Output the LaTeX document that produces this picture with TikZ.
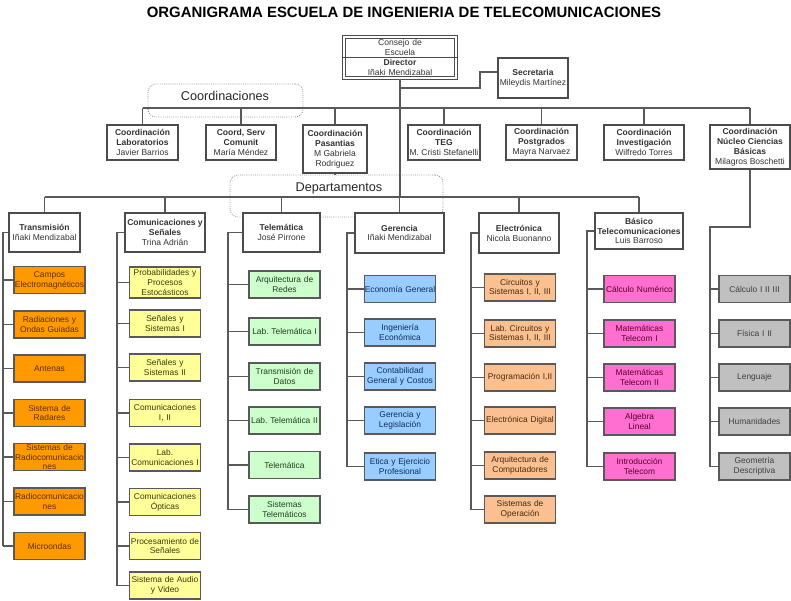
\documentclass[tikz,border=0pt]{standalone}
\usepackage{fontspec}
\setmainfont{Liberation Sans}
\usetikzlibrary{shapes.multipart}

\definecolor{transfill}{HTML}{FF9900}
\definecolor{transtext}{HTML}{5A3000}
\definecolor{comufill}{HTML}{FFFF99}
\definecolor{comutext}{HTML}{3A3A10}
\definecolor{telefill}{HTML}{CCFFCC}
\definecolor{teletext}{HTML}{1F3F1F}
\definecolor{gerenfill}{HTML}{99CCFF}
\definecolor{gerentext}{HTML}{0F2F5F}
\definecolor{elecfill}{HTML}{FAC08F}
\definecolor{electext}{HTML}{4A2A10}
\definecolor{basicofill}{HTML}{FF6FCF}
\definecolor{basicotext}{HTML}{5A0030}
\definecolor{nucleofill}{HTML}{C0C0C0}
\definecolor{nucleotext}{HTML}{404040}

\begin{document}
\frenchspacing
\begin{tikzpicture}[x=0.75pt, y=-0.75pt,
            link/.style={color=black!65, line width=0.8pt},
            area/.style={draw=black!45, densely dotted, rounded corners=6pt, line width=0.6pt},
            areatext/.style={font=\fontsize{9.5}{11}\selectfont, text=black!85},
            unit/.style={draw=black!70, fill=white, line width=0.9pt, align=center, inner sep=1pt, font=\fontsize{6.4}{7.4}\selectfont, text=black!80},
            leaf/.style={draw=black!65, line width=0.9pt, align=center, inner ysep=0pt, text width=57pt, inner xsep=-1.875pt, minimum height=20.25pt, font=\fontsize{6.3}{7.4}\selectfont},
            transleaf/.style={leaf, fill=transfill, text=transtext},
            comuleaf/.style={leaf, fill=comufill, text=comutext},
            teleleaf/.style={leaf, fill=telefill, text=teletext},
            gerenleaf/.style={leaf, fill=gerenfill, text=gerentext},
            elecleaf/.style={leaf, fill=elecfill, text=electext},
            basicoleaf/.style={leaf, fill=basicofill, text=basicotext},
            nucleoleaf/.style={leaf, fill=nucleofill, text=nucleotext}
        ]
            \useasboundingbox (0,0) rectangle (791,600);

            % title
            \node[font=\bfseries\fontsize{11.2}{13}\selectfont] (title) at (404,12) {ORGANIGRAMA ESCUELA DE INGENIERIA DE TELECOMUNICACIONES};

            % top
            \node[draw=black!70, double=white, double distance=1pt, line width=0.9pt, rectangle split, rectangle split parts=2,
                  rectangle split draw splits=false, text width=80pt, align=center, inner xsep=2pt, inner ysep=1.2pt,
                  font=\fontsize{6.4}{7.4}\selectfont, text=black!80] (director) at (400,57.5)
                {Consejo de\\Escuela \nodepart{two} \textbf{Director}\\Iñaki Mendizabal};
            \draw[color=black!70, line width=0.9pt] (director.text split west) -- (director.text split east);
            \node[unit, minimum width=52.5pt, minimum height=30pt] (secretaria) at (533,78) {\textbf{Secretaria}\\Mileydis Martínez};

            % areas
            \node[area, minimum width=116.25pt, minimum height=24.75pt] (coordarea) at (225.5,100.5) {};
            \node[areatext] (coordlabel) at (225,96) {Coordinaciones};
            \node[area, minimum width=159.75pt, minimum height=31.5pt] (deptarea) at (336.5,196) {};
            \node[areatext] (deptlabel) at (339,188) {Departamentos};

            % coordinaciones
            \node[unit, minimum width=53.25pt, minimum height=26.25pt] (clab) at (142.5,142.5) {\textbf{Coordinación}\\\textbf{Laboratorios}\\Javier Barrios};
            \node[unit, minimum width=52.5pt, minimum height=26.25pt] (cserv) at (241,142.5) {\textbf{Coord, Serv}\\\textbf{Comunit}\\María Méndez};
            \node[unit, minimum width=48pt, minimum height=36pt] (cpas) at (335,149) {\textbf{Coordinación}\\\textbf{Pasantias}\\M Gabriela\\Rodriguez};
            \node[unit, minimum width=54pt, minimum height=26.25pt] (cteg) at (444,142.5) {\textbf{Coordinación}\\\textbf{TEG}\\M. Cristi Stefanelli};
            \node[unit, minimum width=53.25pt, minimum height=26.25pt] (cpost) at (541.5,142.5) {\textbf{Coordinación}\\\textbf{Postgrados}\\Mayra Narvaez};
            \node[unit, minimum width=60pt, minimum height=26.25pt] (cinv) at (644,142.5) {\textbf{Coordinación}\\\textbf{Investigación}\\Wilfredo Torres};
            \node[unit, minimum width=60pt, minimum height=33pt] (cnuc) at (750,147) {\textbf{Coordinación}\\\textbf{Núcleo Ciencias}\\\textbf{Básicas}\\Milagros Boschetti};

            % departamentos
            \node[unit, minimum width=53.25pt, minimum height=29.25pt] (trans) at (44.5,232.5) {\textbf{Transmisión}\\Iñaki Mendizabal};
            \node[unit, minimum width=60pt, minimum height=29.25pt] (comu) at (165,232.5) {\textbf{Comunicaciones y}\\\textbf{Señales}\\Trina Adrián};
            \node[unit, minimum width=57.75pt, minimum height=29.25pt] (tele) at (281.5,232.5) {\textbf{Telemática}\\José Pirrone};
            \node[unit, minimum width=66.75pt, minimum height=30pt] (geren) at (399.5,233) {\textbf{Gerencia}\\Iñaki Mendizabal};
            \node[unit, minimum width=60pt, minimum height=30pt] (elec) at (519,233) {\textbf{Electrónica}\\Nicola Buonanno};
            \node[unit, minimum width=66pt, minimum height=27pt] (basico) at (639,231) {\textbf{Básico}\\\textbf{Telecomunicaciones}\\Luis Barroso};

            % materias transmision
            \node[transleaf] (t1) at (49.5,280) {Campos\\Electromagnéticos};
            \node[transleaf] (t2) at (49.5,324.5) {Radiaciones y\\Ondas Guiadas};
            \node[transleaf] (t3) at (49.5,368.5) {Antenas};
            \node[transleaf] (t4) at (49.5,413) {Sistema de\\Radares};
            \node[transleaf] (t5) at (49.5,457) {Sistemas de\\Radiocomunicacio\\nes};
            \node[transleaf] (t6) at (49.5,501.5) {Radiocomunicacio\\nes};
            \node[transleaf] (t7) at (49.5,546) {Microondas};

            % materias comunicaciones
            \node[comuleaf, minimum height=23.25pt] (s1) at (165,282.5) {Probabilidades y\\Procesos\\Estocásticos};
            \node[comuleaf] (s2) at (165,323.5) {Señales y\\Sistemas I};
            \node[comuleaf] (s3) at (165,367.5) {Señales y\\Sistemas II};
            \node[comuleaf] (s4) at (165,413) {Comunicaciones\\I, II};
            \node[comuleaf] (s5) at (165,457.5) {Lab.\\Comunicaciones I};
            \node[comuleaf] (s6) at (165,502) {Comunicaciones\\Ópticas};
            \node[comuleaf] (s7) at (165,546) {Procesamiento de\\Señales};
            \node[comuleaf] (s8) at (165,585.5) {Sistema de Audio\\y Video};

            % materias telematica
            \node[teleleaf] (l1) at (284.5,284.5) {Arquitectura de\\Redes};
            \node[teleleaf] (l2) at (284.5,331.5) {Lab. Telemática I};
            \node[teleleaf] (l3) at (284.5,376.5) {Transmisión de\\Datos};
            \node[teleleaf] (l4) at (284.5,420.5) {Lab. Telemática II};
            \node[teleleaf] (l5) at (284.5,465) {Telemática};
            \node[teleleaf] (l6) at (284.5,509.5) {Sistemas\\Telemáticos};

            % materias gerencia
            \node[gerenleaf] (g1) at (400,289) {Economía General};
            \node[gerenleaf] (g2) at (400,332.5) {Ingeniería\\Económica};
            \node[gerenleaf] (g3) at (400,376.5) {Contabilidad\\General y Costos};
            \node[gerenleaf] (g4) at (400,420.5) {Gerencia y\\Legislación};
            \node[gerenleaf] (g5) at (400,466.5) {Etica y Ejercicio\\Profesional};

            % materias electronica
            \node[elecleaf] (e1) at (520,287.5) {Circuitos y\\Sistemas I, II, III};
            \node[elecleaf] (e2) at (520,333.5) {Lab. Circuitos y\\Sistemas I, II, III};
            \node[elecleaf] (e3) at (520,377.5) {Programación I,II};
            \node[elecleaf] (e4) at (520,420.5) {Electrónica Digital};
            \node[elecleaf] (e5) at (520,465.5) {Arquitectura de\\Computadores};
            \node[elecleaf] (e6) at (520,509.5) {Sistemas de\\Operación};

            % materias basico
            \node[basicoleaf] (b1) at (639.5,289) {Cálculo Numérico};
            \node[basicoleaf] (b2) at (639.5,333.5) {Matemáticas\\Telecom I};
            \node[basicoleaf] (b3) at (639.5,377.5) {Matemáticas\\Telecom II};
            \node[basicoleaf] (b4) at (639.5,421.5) {Algebra\\Lineal};
            \node[basicoleaf] (b5) at (639.5,466.5) {Introducción\\Telecom};

            % materias nucleo
            \node[nucleoleaf] (n1) at (754.5,289) {Cálculo I II III};
            \node[nucleoleaf] (n2) at (754.5,333.5) {Física I II};
            \node[nucleoleaf] (n3) at (754.5,377.5) {Lenguaje};
            \node[nucleoleaf] (n4) at (754.5,421.5) {Humanidades};
            \node[nucleoleaf] (n5) at (754.5,466.5) {Geometría\\Descriptiva};

            % buses
            \coordinate (cbus) at (400,108);
            \coordinate (dbus) at (400,197);
            \coordinate (secjoin) at (400,88);
            \coordinate (secbend) at (480,72);
            \draw[link] (director.south) -- (dbus);
            \draw[link] (secjoin) -| (secbend) -- (secbend -| secretaria.west);
            \draw[link] (cbus -| clab.north) -- (cbus -| cnuc.north);
            \foreach \c in {clab, cserv, cpas, cteg, cpost, cinv, cnuc}{
                \draw[link] (cbus -| \c.north) -- (\c.north);
            }
            \draw[link] (cpas.south) -- (cpas.south |- deptarea.north);
            \draw[link] (dbus -| trans.north) -- (dbus -| basico.north);
            \foreach \d in {trans, comu, tele, geren, elec, basico}{
                \draw[link] (dbus -| \d.north) -- (\d.north);
            }

            % spines
            \coordinate (tsp) at (3,232.5);
            \coordinate (csp) at (117,232.5);
            \coordinate (lsp) at (228,232.5);
            \coordinate (gsp) at (347,233);
            \coordinate (esp) at (471,233);
            \coordinate (bsp) at (587,231);
            \coordinate (nsp) at (710,227);

            \draw[link] (trans.west) -- (tsp) -- (tsp |- t7.west);
            \foreach \i in {1,...,7}{ \draw[link] (tsp |- t\i.west) -- (t\i.west); }
            \draw[link] (comu.west) -- (csp) -- (csp |- s8.west);
            \foreach \i in {1,...,8}{ \draw[link] (csp |- s\i.west) -- (s\i.west); }
            \draw[link] (tele.west) -- (lsp) -- (lsp |- l6.west);
            \foreach \i in {1,...,6}{ \draw[link] (lsp |- l\i.west) -- (l\i.west); }
            \draw[link] (geren.west) -- (gsp) -- (gsp |- g5.west);
            \foreach \i in {1,...,5}{ \draw[link] (gsp |- g\i.west) -- (g\i.west); }
            \draw[link] (elec.west) -- (esp) -- (esp |- e6.west);
            \foreach \i in {1,...,6}{ \draw[link] (esp |- e\i.west) -- (e\i.west); }
            \draw[link] (basico.west) -- (bsp) -- (bsp |- b5.west);
            \foreach \i in {1,...,5}{ \draw[link] (bsp |- b\i.west) -- (b\i.west); }
            \draw[link] (cnuc.south) |- (nsp) -- (nsp |- n5.west);
            \foreach \i in {1,...,5}{ \draw[link] (nsp |- n\i.west) -- (n\i.west); }

        \end{tikzpicture}
\end{document}
